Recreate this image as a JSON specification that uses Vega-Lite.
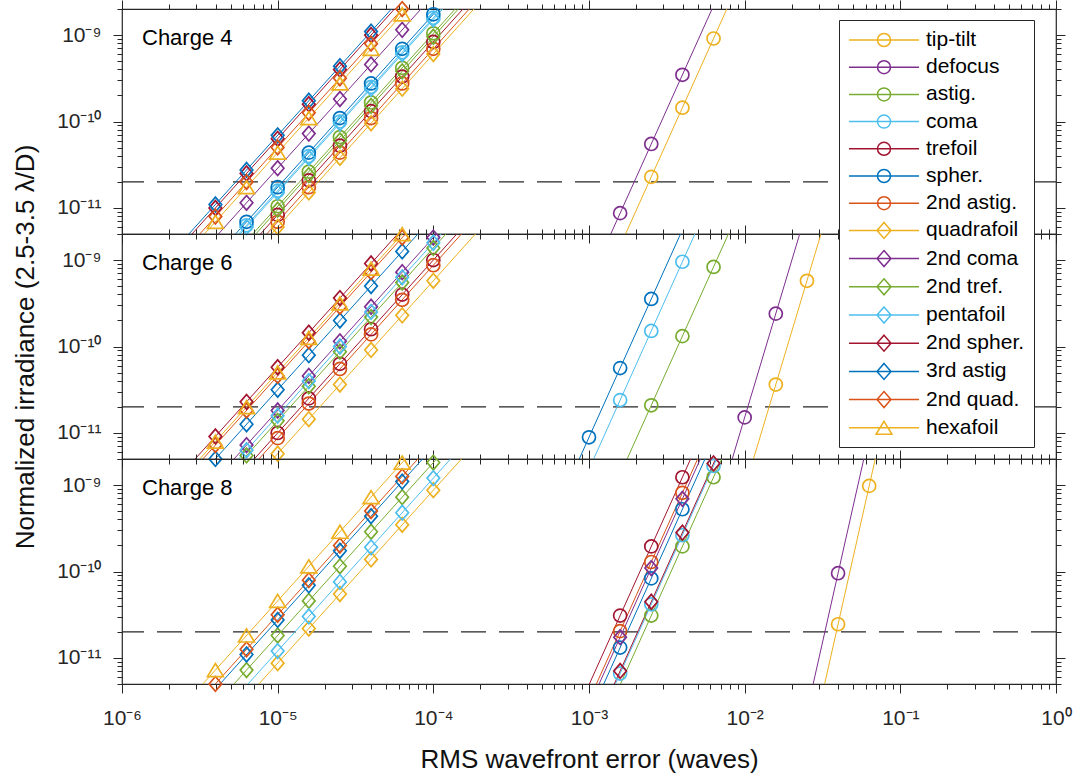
{
  "$schema": "https://vega.github.io/schema/vega-lite/v6.json",
  "background": "white",
  "padding": {"left": 11, "top": -3, "right": 5, "bottom": 5},
  "bounds": "flush",
  "spacing": 0,
  "config": {
    "font": "Liberation Sans",
    "view": {"stroke": "#262626", "strokeWidth": 1.2},
    "axis": {"grid": false, "domain": false, "tickColor": "#262626", "tickWidth": 1, "labelColor": "#262626", "labelFontSize": 21, "labelFont": "Liberation Sans", "titleFont": "Liberation Sans", "titleFontSize": 26, "titleFontWeight": "normal", "titleColor": "#111111", "labelOverlap": false, "labelFlush": false}
  },
  "datasets": {
    "pts": [
      {"c":4,"n":"tip-tilt","x":2.512e-3,"y":2.291e-11},{"c":4,"n":"tip-tilt","x":3.981e-3,"y":1.445e-10},{"c":4,"n":"tip-tilt","x":6.31e-3,"y":9.12e-10},
      {"c":4,"n":"defocus","x":1.585e-3,"y":8.71e-12},{"c":4,"n":"defocus","x":2.512e-3,"y":5.495e-11},{"c":4,"n":"defocus","x":3.981e-3,"y":3.467e-10},
      {"c":4,"n":"astig.","x":1e-5,"y":1.047e-11},{"c":4,"n":"astig.","x":1.585e-5,"y":2.63e-11},{"c":4,"n":"astig.","x":2.512e-5,"y":6.607e-11},{"c":4,"n":"astig.","x":3.981e-5,"y":1.66e-10},{"c":4,"n":"astig.","x":6.31e-5,"y":4.169e-10},{"c":4,"n":"astig.","x":1e-4,"y":1.047e-9},
      {"c":4,"n":"coma","x":6.31e-6,"y":6.31e-12},{"c":4,"n":"coma","x":1e-5,"y":1.585e-11},{"c":4,"n":"coma","x":1.585e-5,"y":3.981e-11},{"c":4,"n":"coma","x":2.512e-5,"y":1e-10},{"c":4,"n":"coma","x":3.981e-5,"y":2.512e-10},{"c":4,"n":"coma","x":6.31e-5,"y":6.31e-10},{"c":4,"n":"coma","x":1e-4,"y":1.585e-9},
      {"c":4,"n":"trefoil","x":1e-5,"y":8.318e-12},{"c":4,"n":"trefoil","x":1.585e-5,"y":2.089e-11},{"c":4,"n":"trefoil","x":2.512e-5,"y":5.248e-11},{"c":4,"n":"trefoil","x":3.981e-5,"y":1.318e-10},{"c":4,"n":"trefoil","x":6.31e-5,"y":3.311e-10},{"c":4,"n":"trefoil","x":1e-4,"y":8.318e-10},
      {"c":4,"n":"spher.","x":6.31e-6,"y":6.918e-12},{"c":4,"n":"spher.","x":1e-5,"y":1.738e-11},{"c":4,"n":"spher.","x":1.585e-5,"y":4.365e-11},{"c":4,"n":"spher.","x":2.512e-5,"y":1.096e-10},{"c":4,"n":"spher.","x":3.981e-5,"y":2.754e-10},{"c":4,"n":"spher.","x":6.31e-5,"y":6.918e-10},{"c":4,"n":"spher.","x":1e-4,"y":1.738e-9},
      {"c":4,"n":"2nd astig.","x":1e-5,"y":6.918e-12},{"c":4,"n":"2nd astig.","x":1.585e-5,"y":1.738e-11},{"c":4,"n":"2nd astig.","x":2.512e-5,"y":4.365e-11},{"c":4,"n":"2nd astig.","x":3.981e-5,"y":1.096e-10},{"c":4,"n":"2nd astig.","x":6.31e-5,"y":2.754e-10},{"c":4,"n":"2nd astig.","x":1e-4,"y":6.918e-10},
      {"c":4,"n":"quadrafoil","x":1e-5,"y":6.026e-12},{"c":4,"n":"quadrafoil","x":1.585e-5,"y":1.514e-11},{"c":4,"n":"quadrafoil","x":2.512e-5,"y":3.802e-11},{"c":4,"n":"quadrafoil","x":3.981e-5,"y":9.55e-11},{"c":4,"n":"quadrafoil","x":6.31e-5,"y":2.399e-10},{"c":4,"n":"quadrafoil","x":1e-4,"y":6.026e-10},
      {"c":4,"n":"2nd coma","x":6.31e-6,"y":1.148e-11},{"c":4,"n":"2nd coma","x":1e-5,"y":2.884e-11},{"c":4,"n":"2nd coma","x":1.585e-5,"y":7.244e-11},{"c":4,"n":"2nd coma","x":2.512e-5,"y":1.82e-10},{"c":4,"n":"2nd coma","x":3.981e-5,"y":4.571e-10},{"c":4,"n":"2nd coma","x":6.31e-5,"y":1.148e-9},
      {"c":4,"n":"2nd tref.","x":1e-5,"y":9.55e-12},{"c":4,"n":"2nd tref.","x":1.585e-5,"y":2.399e-11},{"c":4,"n":"2nd tref.","x":2.512e-5,"y":6.026e-11},{"c":4,"n":"2nd tref.","x":3.981e-5,"y":1.514e-10},{"c":4,"n":"2nd tref.","x":6.31e-5,"y":3.802e-10},{"c":4,"n":"2nd tref.","x":1e-4,"y":9.55e-10},
      {"c":4,"n":"pentafoil","x":6.31e-6,"y":6.026e-12},{"c":4,"n":"pentafoil","x":1e-5,"y":1.514e-11},{"c":4,"n":"pentafoil","x":1.585e-5,"y":3.802e-11},{"c":4,"n":"pentafoil","x":2.512e-5,"y":9.55e-11},{"c":4,"n":"pentafoil","x":3.981e-5,"y":2.399e-10},{"c":4,"n":"pentafoil","x":6.31e-5,"y":6.026e-10},{"c":4,"n":"pentafoil","x":1e-4,"y":1.514e-9},
      {"c":4,"n":"2nd spher.","x":3.981e-6,"y":1e-11},{"c":4,"n":"2nd spher.","x":6.31e-6,"y":2.512e-11},{"c":4,"n":"2nd spher.","x":1e-5,"y":6.31e-11},{"c":4,"n":"2nd spher.","x":1.585e-5,"y":1.585e-10},{"c":4,"n":"2nd spher.","x":2.512e-5,"y":3.981e-10},{"c":4,"n":"2nd spher.","x":3.981e-5,"y":1e-9},
      {"c":4,"n":"3rd astig","x":3.981e-6,"y":1.096e-11},{"c":4,"n":"3rd astig","x":6.31e-6,"y":2.754e-11},{"c":4,"n":"3rd astig","x":1e-5,"y":6.918e-11},{"c":4,"n":"3rd astig","x":1.585e-5,"y":1.738e-10},{"c":4,"n":"3rd astig","x":2.512e-5,"y":4.365e-10},{"c":4,"n":"3rd astig","x":3.981e-5,"y":1.096e-9},
      {"c":4,"n":"2nd quad.","x":3.981e-6,"y":7.943e-12},{"c":4,"n":"2nd quad.","x":6.31e-6,"y":1.995e-11},{"c":4,"n":"2nd quad.","x":1e-5,"y":5.012e-11},{"c":4,"n":"2nd quad.","x":1.585e-5,"y":1.259e-10},{"c":4,"n":"2nd quad.","x":2.512e-5,"y":3.162e-10},{"c":4,"n":"2nd quad.","x":3.981e-5,"y":7.943e-10},{"c":4,"n":"2nd quad.","x":6.31e-5,"y":1.995e-9},
      {"c":4,"n":"hexafoil","x":3.981e-6,"y":6.918e-12},{"c":4,"n":"hexafoil","x":6.31e-6,"y":1.738e-11},{"c":4,"n":"hexafoil","x":1e-5,"y":4.365e-11},{"c":4,"n":"hexafoil","x":1.585e-5,"y":1.096e-10},{"c":4,"n":"hexafoil","x":2.512e-5,"y":2.754e-10},{"c":4,"n":"hexafoil","x":3.981e-5,"y":6.918e-10},{"c":4,"n":"hexafoil","x":6.31e-5,"y":1.738e-9},

      {"c":6,"n":"tip-tilt","x":1.585e-2,"y":3.631e-11},{"c":6,"n":"tip-tilt","x":2.512e-2,"y":5.754e-10},
      {"c":6,"n":"defocus","x":1e-2,"y":1.514e-11},{"c":6,"n":"defocus","x":1.585e-2,"y":2.399e-10},
      {"c":6,"n":"astig.","x":2.512e-3,"y":2.089e-11},{"c":6,"n":"astig.","x":3.981e-3,"y":1.318e-10},{"c":6,"n":"astig.","x":6.31e-3,"y":8.318e-10},
      {"c":6,"n":"coma","x":1.585e-3,"y":2.399e-11},{"c":6,"n":"coma","x":2.512e-3,"y":1.514e-10},{"c":6,"n":"coma","x":3.981e-3,"y":9.55e-10},
      {"c":6,"n":"trefoil","x":1e-5,"y":1e-11},{"c":6,"n":"trefoil","x":1.585e-5,"y":2.512e-11},{"c":6,"n":"trefoil","x":2.512e-5,"y":6.31e-11},{"c":6,"n":"trefoil","x":3.981e-5,"y":1.585e-10},{"c":6,"n":"trefoil","x":6.31e-5,"y":3.981e-10},{"c":6,"n":"trefoil","x":1e-4,"y":1e-9},
      {"c":6,"n":"spher.","x":1e-3,"y":8.913e-12},{"c":6,"n":"spher.","x":1.585e-3,"y":5.623e-11},{"c":6,"n":"spher.","x":2.512e-3,"y":3.548e-10},
      {"c":6,"n":"2nd astig.","x":1e-5,"y":8.71e-12},{"c":6,"n":"2nd astig.","x":1.585e-5,"y":2.188e-11},{"c":6,"n":"2nd astig.","x":2.512e-5,"y":5.495e-11},{"c":6,"n":"2nd astig.","x":3.981e-5,"y":1.38e-10},{"c":6,"n":"2nd astig.","x":6.31e-5,"y":3.467e-10},{"c":6,"n":"2nd astig.","x":1e-4,"y":8.71e-10},
      {"c":6,"n":"quadrafoil","x":1e-5,"y":5.754e-12},{"c":6,"n":"quadrafoil","x":1.585e-5,"y":1.445e-11},{"c":6,"n":"quadrafoil","x":2.512e-5,"y":3.631e-11},{"c":6,"n":"quadrafoil","x":3.981e-5,"y":9.12e-11},{"c":6,"n":"quadrafoil","x":6.31e-5,"y":2.291e-10},{"c":6,"n":"quadrafoil","x":1e-4,"y":5.754e-10},
      {"c":6,"n":"2nd coma","x":6.31e-6,"y":7.244e-12},{"c":6,"n":"2nd coma","x":1e-5,"y":1.82e-11},{"c":6,"n":"2nd coma","x":1.585e-5,"y":4.571e-11},{"c":6,"n":"2nd coma","x":2.512e-5,"y":1.148e-10},{"c":6,"n":"2nd coma","x":3.981e-5,"y":2.884e-10},{"c":6,"n":"2nd coma","x":6.31e-5,"y":7.244e-10},{"c":6,"n":"2nd coma","x":1e-4,"y":1.82e-9},
      {"c":6,"n":"2nd tref.","x":6.31e-6,"y":5.495e-12},{"c":6,"n":"2nd tref.","x":1e-5,"y":1.38e-11},{"c":6,"n":"2nd tref.","x":1.585e-5,"y":3.467e-11},{"c":6,"n":"2nd tref.","x":2.512e-5,"y":8.71e-11},{"c":6,"n":"2nd tref.","x":3.981e-5,"y":2.188e-10},{"c":6,"n":"2nd tref.","x":6.31e-5,"y":5.495e-10},{"c":6,"n":"2nd tref.","x":1e-4,"y":1.38e-9},
      {"c":6,"n":"pentafoil","x":6.31e-6,"y":6.31e-12},{"c":6,"n":"pentafoil","x":1e-5,"y":1.585e-11},{"c":6,"n":"pentafoil","x":1.585e-5,"y":3.981e-11},{"c":6,"n":"pentafoil","x":2.512e-5,"y":1e-10},{"c":6,"n":"pentafoil","x":3.981e-5,"y":2.512e-10},{"c":6,"n":"pentafoil","x":6.31e-5,"y":6.31e-10},{"c":6,"n":"pentafoil","x":1e-4,"y":1.585e-9},
      {"c":6,"n":"2nd spher.","x":3.981e-6,"y":9.12e-12},{"c":6,"n":"2nd spher.","x":6.31e-6,"y":2.291e-11},{"c":6,"n":"2nd spher.","x":1e-5,"y":5.754e-11},{"c":6,"n":"2nd spher.","x":1.585e-5,"y":1.445e-10},{"c":6,"n":"2nd spher.","x":2.512e-5,"y":3.631e-10},{"c":6,"n":"2nd spher.","x":3.981e-5,"y":9.12e-10},
      {"c":6,"n":"3rd astig","x":3.981e-6,"y":5.012e-12},{"c":6,"n":"3rd astig","x":6.31e-6,"y":1.259e-11},{"c":6,"n":"3rd astig","x":1e-5,"y":3.162e-11},{"c":6,"n":"3rd astig","x":1.585e-5,"y":7.943e-11},{"c":6,"n":"3rd astig","x":2.512e-5,"y":1.995e-10},{"c":6,"n":"3rd astig","x":3.981e-5,"y":5.012e-10},{"c":6,"n":"3rd astig","x":6.31e-5,"y":1.259e-9},
      {"c":6,"n":"2nd quad.","x":3.981e-6,"y":7.244e-12},{"c":6,"n":"2nd quad.","x":6.31e-6,"y":1.82e-11},{"c":6,"n":"2nd quad.","x":1e-5,"y":4.571e-11},{"c":6,"n":"2nd quad.","x":1.585e-5,"y":1.148e-10},{"c":6,"n":"2nd quad.","x":2.512e-5,"y":2.884e-10},{"c":6,"n":"2nd quad.","x":3.981e-5,"y":7.244e-10},{"c":6,"n":"2nd quad.","x":6.31e-5,"y":1.82e-9},
      {"c":6,"n":"hexafoil","x":3.981e-6,"y":7.943e-12},{"c":6,"n":"hexafoil","x":6.31e-6,"y":1.995e-11},{"c":6,"n":"hexafoil","x":1e-5,"y":5.012e-11},{"c":6,"n":"hexafoil","x":1.585e-5,"y":1.259e-10},{"c":6,"n":"hexafoil","x":2.512e-5,"y":3.162e-10},{"c":6,"n":"hexafoil","x":3.981e-5,"y":7.943e-10},{"c":6,"n":"hexafoil","x":6.31e-5,"y":1.995e-9},

      {"c":8,"n":"tip-tilt","x":3.981e-2,"y":2.455e-11},{"c":8,"n":"tip-tilt","x":6.31e-2,"y":9.772e-10},
      {"c":8,"n":"defocus","x":3.981e-2,"y":9.55e-11},
      {"c":8,"n":"astig.","x":2.512e-3,"y":3.09e-11},{"c":8,"n":"astig.","x":3.981e-3,"y":1.95e-10},{"c":8,"n":"astig.","x":6.31e-3,"y":1.23e-9},
      {"c":8,"n":"coma","x":1.585e-3,"y":6.607e-12},{"c":8,"n":"coma","x":2.512e-3,"y":4.169e-11},{"c":8,"n":"coma","x":3.981e-3,"y":2.63e-10},{"c":8,"n":"coma","x":6.31e-3,"y":1.66e-9},
      {"c":8,"n":"trefoil","x":1.585e-3,"y":3.09e-11},{"c":8,"n":"trefoil","x":2.512e-3,"y":1.95e-10},{"c":8,"n":"trefoil","x":3.981e-3,"y":1.23e-9},
      {"c":8,"n":"spher.","x":1.585e-3,"y":1.318e-11},{"c":8,"n":"spher.","x":2.512e-3,"y":8.318e-11},{"c":8,"n":"spher.","x":3.981e-3,"y":5.248e-10},
      {"c":8,"n":"2nd astig.","x":1.585e-3,"y":2.042e-11},{"c":8,"n":"2nd astig.","x":2.512e-3,"y":1.288e-10},{"c":8,"n":"2nd astig.","x":3.981e-3,"y":8.128e-10},
      {"c":8,"n":"quadrafoil","x":1e-5,"y":8.71e-12},{"c":8,"n":"quadrafoil","x":1.585e-5,"y":2.188e-11},{"c":8,"n":"quadrafoil","x":2.512e-5,"y":5.495e-11},{"c":8,"n":"quadrafoil","x":3.981e-5,"y":1.38e-10},{"c":8,"n":"quadrafoil","x":6.31e-5,"y":3.467e-10},{"c":8,"n":"quadrafoil","x":1e-4,"y":8.71e-10},
      {"c":8,"n":"2nd coma","x":1.585e-3,"y":1.738e-11},{"c":8,"n":"2nd coma","x":2.512e-3,"y":1.096e-10},{"c":8,"n":"2nd coma","x":3.981e-3,"y":6.918e-10},
      {"c":8,"n":"2nd tref.","x":6.31e-6,"y":7.244e-12},{"c":8,"n":"2nd tref.","x":1e-5,"y":1.82e-11},{"c":8,"n":"2nd tref.","x":1.585e-5,"y":4.571e-11},{"c":8,"n":"2nd tref.","x":2.512e-5,"y":1.148e-10},{"c":8,"n":"2nd tref.","x":3.981e-5,"y":2.884e-10},{"c":8,"n":"2nd tref.","x":6.31e-5,"y":7.244e-10},{"c":8,"n":"2nd tref.","x":1e-4,"y":1.82e-9},
      {"c":8,"n":"pentafoil","x":1e-5,"y":1.202e-11},{"c":8,"n":"pentafoil","x":1.585e-5,"y":3.02e-11},{"c":8,"n":"pentafoil","x":2.512e-5,"y":7.586e-11},{"c":8,"n":"pentafoil","x":3.981e-5,"y":1.905e-10},{"c":8,"n":"pentafoil","x":6.31e-5,"y":4.786e-10},{"c":8,"n":"pentafoil","x":1e-4,"y":1.202e-9},
      {"c":8,"n":"2nd spher.","x":1.585e-3,"y":7.079e-12},{"c":8,"n":"2nd spher.","x":2.512e-3,"y":4.467e-11},{"c":8,"n":"2nd spher.","x":3.981e-3,"y":2.818e-10},{"c":8,"n":"2nd spher.","x":6.31e-3,"y":1.778e-9},
      {"c":8,"n":"3rd astig","x":6.31e-6,"y":1.096e-11},{"c":8,"n":"3rd astig","x":1e-5,"y":2.754e-11},{"c":8,"n":"3rd astig","x":1.585e-5,"y":6.918e-11},{"c":8,"n":"3rd astig","x":2.512e-5,"y":1.738e-10},{"c":8,"n":"3rd astig","x":3.981e-5,"y":4.365e-10},{"c":8,"n":"3rd astig","x":6.31e-5,"y":1.096e-9},
      {"c":8,"n":"2nd quad.","x":3.981e-6,"y":5.012e-12},{"c":8,"n":"2nd quad.","x":6.31e-6,"y":1.259e-11},{"c":8,"n":"2nd quad.","x":1e-5,"y":3.162e-11},{"c":8,"n":"2nd quad.","x":1.585e-5,"y":7.943e-11},{"c":8,"n":"2nd quad.","x":2.512e-5,"y":1.995e-10},{"c":8,"n":"2nd quad.","x":3.981e-5,"y":5.012e-10},{"c":8,"n":"2nd quad.","x":6.31e-5,"y":1.259e-9},
      {"c":8,"n":"hexafoil","x":3.981e-6,"y":7.244e-12},{"c":8,"n":"hexafoil","x":6.31e-6,"y":1.82e-11},{"c":8,"n":"hexafoil","x":1e-5,"y":4.571e-11},{"c":8,"n":"hexafoil","x":1.585e-5,"y":1.148e-10},{"c":8,"n":"hexafoil","x":2.512e-5,"y":2.884e-10},{"c":8,"n":"hexafoil","x":3.981e-5,"y":7.244e-10},{"c":8,"n":"hexafoil","x":6.31e-5,"y":1.82e-9}
    ],
    "fits": [
      {"c":4,"n":"tip-tilt","x":3.981e-4,"y":1.445e-14},{"c":4,"n":"tip-tilt","x":3.981e-2,"y":1.445e-6},
      {"c":4,"n":"defocus","x":2.512e-4,"y":5.495e-15},{"c":4,"n":"defocus","x":2.512e-2,"y":5.495e-7},
      {"c":4,"n":"astig.","x":1e-6,"y":1.047e-13},{"c":4,"n":"astig.","x":1e-3,"y":1.047e-7},
      {"c":4,"n":"coma","x":1e-6,"y":1.585e-13},{"c":4,"n":"coma","x":1e-3,"y":1.585e-7},
      {"c":4,"n":"trefoil","x":1e-6,"y":8.318e-14},{"c":4,"n":"trefoil","x":1e-3,"y":8.318e-8},
      {"c":4,"n":"spher.","x":1e-6,"y":1.738e-13},{"c":4,"n":"spher.","x":1e-3,"y":1.738e-7},
      {"c":4,"n":"2nd astig.","x":1e-6,"y":6.918e-14},{"c":4,"n":"2nd astig.","x":1e-3,"y":6.918e-8},
      {"c":4,"n":"quadrafoil","x":1e-6,"y":6.026e-14},{"c":4,"n":"quadrafoil","x":1e-3,"y":6.026e-8},
      {"c":4,"n":"2nd coma","x":1e-6,"y":2.884e-13},{"c":4,"n":"2nd coma","x":1e-3,"y":2.884e-7},
      {"c":4,"n":"2nd tref.","x":1e-6,"y":9.55e-14},{"c":4,"n":"2nd tref.","x":1e-3,"y":9.55e-8},
      {"c":4,"n":"pentafoil","x":1e-6,"y":1.514e-13},{"c":4,"n":"pentafoil","x":1e-3,"y":1.514e-7},
      {"c":4,"n":"2nd spher.","x":1e-6,"y":6.31e-13},{"c":4,"n":"2nd spher.","x":1e-3,"y":6.31e-7},
      {"c":4,"n":"3rd astig","x":1e-6,"y":6.918e-13},{"c":4,"n":"3rd astig","x":1e-3,"y":6.918e-7},
      {"c":4,"n":"2nd quad.","x":1e-6,"y":5.012e-13},{"c":4,"n":"2nd quad.","x":1e-3,"y":5.012e-7},
      {"c":4,"n":"hexafoil","x":1e-6,"y":4.365e-13},{"c":4,"n":"hexafoil","x":1e-3,"y":4.365e-7},

      {"c":6,"n":"tip-tilt","x":6.31e-3,"y":1.445e-13},{"c":6,"n":"tip-tilt","x":6.31e-2,"y":1.445e-7},
      {"c":6,"n":"defocus","x":3.981e-3,"y":6.026e-14},{"c":6,"n":"defocus","x":3.981e-2,"y":6.026e-8},
      {"c":6,"n":"astig.","x":3.981e-4,"y":1.318e-14},{"c":6,"n":"astig.","x":3.981e-2,"y":1.318e-6},
      {"c":6,"n":"coma","x":2.512e-4,"y":1.514e-14},{"c":6,"n":"coma","x":2.512e-2,"y":1.514e-6},
      {"c":6,"n":"trefoil","x":1e-6,"y":1e-13},{"c":6,"n":"trefoil","x":1e-3,"y":1e-7},
      {"c":6,"n":"spher.","x":1.585e-4,"y":5.623e-15},{"c":6,"n":"spher.","x":1.585e-2,"y":5.623e-7},
      {"c":6,"n":"2nd astig.","x":1e-6,"y":8.71e-14},{"c":6,"n":"2nd astig.","x":1e-3,"y":8.71e-8},
      {"c":6,"n":"quadrafoil","x":1e-6,"y":5.754e-14},{"c":6,"n":"quadrafoil","x":1e-3,"y":5.754e-8},
      {"c":6,"n":"2nd coma","x":1e-6,"y":1.82e-13},{"c":6,"n":"2nd coma","x":1e-3,"y":1.82e-7},
      {"c":6,"n":"2nd tref.","x":1e-6,"y":1.38e-13},{"c":6,"n":"2nd tref.","x":1e-3,"y":1.38e-7},
      {"c":6,"n":"pentafoil","x":1e-6,"y":1.585e-13},{"c":6,"n":"pentafoil","x":1e-3,"y":1.585e-7},
      {"c":6,"n":"2nd spher.","x":1e-6,"y":5.754e-13},{"c":6,"n":"2nd spher.","x":1e-3,"y":5.754e-7},
      {"c":6,"n":"3rd astig","x":1e-6,"y":3.162e-13},{"c":6,"n":"3rd astig","x":1e-3,"y":3.162e-7},
      {"c":6,"n":"2nd quad.","x":1e-6,"y":4.571e-13},{"c":6,"n":"2nd quad.","x":1e-3,"y":4.571e-7},
      {"c":6,"n":"hexafoil","x":1e-6,"y":5.012e-13},{"c":6,"n":"hexafoil","x":1e-3,"y":5.012e-7},

      {"c":8,"n":"tip-tilt","x":1.585e-2,"y":1.549e-14},{"c":8,"n":"tip-tilt","x":1.585e-1,"y":1.549e-6},
      {"c":8,"n":"defocus","x":1.259e-2,"y":9.55e-15},{"c":8,"n":"defocus","x":1.259e-1,"y":9.55e-7},
      {"c":8,"n":"astig.","x":3.981e-4,"y":1.95e-14},{"c":8,"n":"astig.","x":3.981e-2,"y":1.95e-6},
      {"c":8,"n":"coma","x":3.981e-4,"y":2.63e-14},{"c":8,"n":"coma","x":3.981e-2,"y":2.63e-6},
      {"c":8,"n":"trefoil","x":2.512e-4,"y":1.95e-14},{"c":8,"n":"trefoil","x":2.512e-2,"y":1.95e-6},
      {"c":8,"n":"spher.","x":2.512e-4,"y":8.318e-15},{"c":8,"n":"spher.","x":2.512e-2,"y":8.318e-7},
      {"c":8,"n":"2nd astig.","x":2.512e-4,"y":1.288e-14},{"c":8,"n":"2nd astig.","x":2.512e-2,"y":1.288e-6},
      {"c":8,"n":"quadrafoil","x":1e-6,"y":8.71e-14},{"c":8,"n":"quadrafoil","x":1e-3,"y":8.71e-8},
      {"c":8,"n":"2nd coma","x":2.512e-4,"y":1.096e-14},{"c":8,"n":"2nd coma","x":2.512e-2,"y":1.096e-6},
      {"c":8,"n":"2nd tref.","x":1e-6,"y":1.82e-13},{"c":8,"n":"2nd tref.","x":1e-3,"y":1.82e-7},
      {"c":8,"n":"pentafoil","x":1e-6,"y":1.202e-13},{"c":8,"n":"pentafoil","x":1e-3,"y":1.202e-7},
      {"c":8,"n":"2nd spher.","x":3.981e-4,"y":2.818e-14},{"c":8,"n":"2nd spher.","x":3.981e-2,"y":2.818e-6},
      {"c":8,"n":"3rd astig","x":1e-6,"y":2.754e-13},{"c":8,"n":"3rd astig","x":1e-3,"y":2.754e-7},
      {"c":8,"n":"2nd quad.","x":1e-6,"y":3.162e-13},{"c":8,"n":"2nd quad.","x":1e-3,"y":3.162e-7},
      {"c":8,"n":"hexafoil","x":1e-6,"y":4.571e-13},{"c":8,"n":"hexafoil","x":1e-3,"y":4.571e-7}
    ]
  },
  "vconcat": [
    {
      "width": 934, "height": 225,
      "resolve": {"axis": {"x": "independent", "y": "independent"}},
      "layer": [
        {"data": {"values": [{}]}, "mark": {"type": "rule", "strokeDash": [25, 13], "color": "#262626", "strokeWidth": 1.3},
         "encoding": {"y": {"datum": 2e-11, "type": "quantitative", "axis": null}}},
        {"data": {"name": "fits"}, "transform": [{"filter": "datum.c == 4"}],
         "mark": {"type": "line", "clip": true, "strokeWidth": 1},
         "encoding": {
           "x": {"field": "x", "type": "quantitative", "scale": {"type": "log", "domain": [1e-6, 1], "nice": false},
                 "axis": {"orient": "bottom", "labels": false, "title": null, "values": [1e-6,2e-6,3e-6,4e-6,5e-6,6e-6,7e-6,8e-6,9e-6,1e-5,2e-5,3e-5,4e-5,5e-5,6e-5,7e-5,8e-5,9e-5,1e-4,2e-4,3e-4,4e-4,5e-4,6e-4,7e-4,8e-4,9e-4,1e-3,2e-3,3e-3,4e-3,5e-3,6e-3,7e-3,8e-3,9e-3,0.01,0.02,0.03,0.04,0.05,0.06,0.07,0.08,0.09,0.1,0.2,0.3,0.4,0.5,0.6,0.7,0.8,0.9,1],
                          "tickSize": {"condition": {"test": "abs(log(datum.value)/LN10 - round(log(datum.value)/LN10)) < 0.001", "value": 9}, "value": 5}}},
           "y": {"field": "y", "type": "quantitative", "scale": {"type": "log", "domain": [5e-12, 2e-9], "nice": false},
                 "axis": {"orient": "left", "title": null, "labelPadding": 12, "values": [5e-12,6e-12,7e-12,8e-12,9e-12,1e-11,2e-11,3e-11,4e-11,5e-11,6e-11,7e-11,8e-11,9e-11,1e-10,2e-10,3e-10,4e-10,5e-10,6e-10,7e-10,8e-10,9e-10,1e-9,2e-9],
                          "labelExpr": "abs(log(datum.value)/LN10 - round(log(datum.value)/LN10)) < 0.001 ? ['10⁻¹¹','10⁻¹⁰','10⁻⁹'][round(log(datum.value)/LN10) + 11] : ''",
                          "tickSize": {"condition": {"test": "abs(log(datum.value)/LN10 - round(log(datum.value)/LN10)) < 0.001", "value": 9}, "value": 5}}},
           "color": {"field": "n", "type": "nominal", "scale": {"domain": ["tip-tilt","defocus","astig.","coma","trefoil","spher.","2nd astig.","quadrafoil","2nd coma","2nd tref.","pentafoil","2nd spher.","3rd astig","2nd quad.","hexafoil"], "range": ["#EDB120","#7E2F8E","#77AC30","#4DBEEE","#A2142F","#0072BD","#D95319","#EDB120","#7E2F8E","#77AC30","#4DBEEE","#A2142F","#0072BD","#D95319","#EDB120"]}}
         }},
        {"data": {"name": "pts"}, "transform": [{"filter": "datum.c == 4"}],
         "mark": {"type": "point", "filled": false, "strokeWidth": 1.7, "size": 196, "opacity": 1},
         "encoding": {
           "x": {"field": "x", "type": "quantitative",
                 "axis": {"orient": "top", "labels": false, "title": null, "values": [1e-6,2e-6,3e-6,4e-6,5e-6,6e-6,7e-6,8e-6,9e-6,1e-5,2e-5,3e-5,4e-5,5e-5,6e-5,7e-5,8e-5,9e-5,1e-4,2e-4,3e-4,4e-4,5e-4,6e-4,7e-4,8e-4,9e-4,1e-3,2e-3,3e-3,4e-3,5e-3,6e-3,7e-3,8e-3,9e-3,0.01,0.02,0.03,0.04,0.05,0.06,0.07,0.08,0.09,0.1,0.2,0.3,0.4,0.5,0.6,0.7,0.8,0.9,1],
                          "tickSize": {"condition": {"test": "abs(log(datum.value)/LN10 - round(log(datum.value)/LN10)) < 0.001", "value": 9}, "value": 5}}},
           "y": {"field": "y", "type": "quantitative",
                 "axis": {"orient": "right", "labels": false, "title": null, "values": [5e-12,6e-12,7e-12,8e-12,9e-12,1e-11,2e-11,3e-11,4e-11,5e-11,6e-11,7e-11,8e-11,9e-11,1e-10,2e-10,3e-10,4e-10,5e-10,6e-10,7e-10,8e-10,9e-10,1e-9,2e-9],
                          "tickSize": {"condition": {"test": "abs(log(datum.value)/LN10 - round(log(datum.value)/LN10)) < 0.001", "value": 9}, "value": 5}}},
           "color": {"field": "n", "type": "nominal", "scale": {"domain": ["tip-tilt","defocus","astig.","coma","trefoil","spher.","2nd astig.","quadrafoil","2nd coma","2nd tref.","pentafoil","2nd spher.","3rd astig","2nd quad.","hexafoil"], "range": ["#EDB120","#7E2F8E","#77AC30","#4DBEEE","#A2142F","#0072BD","#D95319","#EDB120","#7E2F8E","#77AC30","#4DBEEE","#A2142F","#0072BD","#D95319","#EDB120"]},
                     "legend": {"orient": "none", "legendX": 717, "legendY": 11, "title": null, "labelFontSize": 21, "labelColor": "#000000", "labelFont": "Liberation Sans", "symbolSize": 400, "symbolStrokeWidth": 1.5, "symbolFillColor": "transparent", "symbolOffset": 25, "labelOffset": 31, "strokeColor": "#262626", "fillColor": "#ffffff", "padding": 9, "rowPadding": 6.2, "cornerRadius": 0,
                                "symbolType": {"expr": "datum.value == 'hexafoil' ? 'M-3.5,0H3.5M0,-0.65L0.8,0.65L-0.8,0.65Z' : indexof(['quadrafoil','2nd coma','2nd tref.','pentafoil','2nd spher.','3rd astig','2nd quad.'], datum.value) >= 0 ? 'M-3.5,0H3.5M0,-0.8L0.7,0L0,0.8L-0.7,0Z' : 'M-3.5,0H3.5M0.65,0A0.65,0.65,0,1,1,-0.65,0A0.65,0.65,0,1,1,0.65,0Z'"}}},
           "shape": {"condition": [{"test": "datum.n == 'hexafoil'", "value": "M0,-0.93L1.14,0.93L-1.14,0.93Z"}, {"test": "indexof(['quadrafoil','2nd coma','2nd tref.','pentafoil','2nd spher.','3rd astig','2nd quad.'], datum.n) >= 0", "value": "M0,-1.05L0.9,0L0,1.05L-0.9,0Z"}], "value": "M0.93,0A0.93,0.93,0,1,1,-0.93,0A0.93,0.93,0,1,1,0.93,0Z"}
         }},
        {"data": {"values": [{}]}, "mark": {"type": "text", "align": "left", "baseline": "alphabetic", "fontSize": 22, "color": "#000000", "font": "Liberation Sans"},
         "encoding": {"x": {"datum": 1.344e-6, "type": "quantitative", "axis": null}, "y": {"datum": 7.6e-10, "type": "quantitative", "axis": null}, "text": {"value": "Charge 4"}}}
      ]
    },
    {
      "width": 934, "height": 225,
      "resolve": {"axis": {"x": "independent", "y": "independent"}},
      "layer": [
        {"data": {"values": [{}]}, "mark": {"type": "rule", "strokeDash": [25, 13], "color": "#262626", "strokeWidth": 1.3},
         "encoding": {"y": {"datum": 2e-11, "type": "quantitative", "axis": null}}},
        {"data": {"name": "fits"}, "transform": [{"filter": "datum.c == 6"}],
         "mark": {"type": "line", "clip": true, "strokeWidth": 1},
         "encoding": {
           "x": {"field": "x", "type": "quantitative", "scale": {"type": "log", "domain": [1e-6, 1], "nice": false},
                 "axis": {"orient": "bottom", "labels": false, "title": null, "values": [1e-6,2e-6,3e-6,4e-6,5e-6,6e-6,7e-6,8e-6,9e-6,1e-5,2e-5,3e-5,4e-5,5e-5,6e-5,7e-5,8e-5,9e-5,1e-4,2e-4,3e-4,4e-4,5e-4,6e-4,7e-4,8e-4,9e-4,1e-3,2e-3,3e-3,4e-3,5e-3,6e-3,7e-3,8e-3,9e-3,0.01,0.02,0.03,0.04,0.05,0.06,0.07,0.08,0.09,0.1,0.2,0.3,0.4,0.5,0.6,0.7,0.8,0.9,1],
                          "tickSize": {"condition": {"test": "abs(log(datum.value)/LN10 - round(log(datum.value)/LN10)) < 0.001", "value": 9}, "value": 5}}},
           "y": {"field": "y", "type": "quantitative", "scale": {"type": "log", "domain": [5e-12, 2e-9], "nice": false},
                 "axis": {"orient": "left", "title": "Normalized irradiance (2.5-3.5 λ/D)", "titleX": -84, "titleAngle": 270, "titleBaseline": "bottom", "titleAlign": "center", "labelPadding": 12, "values": [5e-12,6e-12,7e-12,8e-12,9e-12,1e-11,2e-11,3e-11,4e-11,5e-11,6e-11,7e-11,8e-11,9e-11,1e-10,2e-10,3e-10,4e-10,5e-10,6e-10,7e-10,8e-10,9e-10,1e-9,2e-9],
                          "labelExpr": "abs(log(datum.value)/LN10 - round(log(datum.value)/LN10)) < 0.001 ? ['10⁻¹¹','10⁻¹⁰','10⁻⁹'][round(log(datum.value)/LN10) + 11] : ''",
                          "tickSize": {"condition": {"test": "abs(log(datum.value)/LN10 - round(log(datum.value)/LN10)) < 0.001", "value": 9}, "value": 5}}},
           "color": {"field": "n", "type": "nominal", "scale": {"domain": ["tip-tilt","defocus","astig.","coma","trefoil","spher.","2nd astig.","quadrafoil","2nd coma","2nd tref.","pentafoil","2nd spher.","3rd astig","2nd quad.","hexafoil"], "range": ["#EDB120","#7E2F8E","#77AC30","#4DBEEE","#A2142F","#0072BD","#D95319","#EDB120","#7E2F8E","#77AC30","#4DBEEE","#A2142F","#0072BD","#D95319","#EDB120"]}}
         }},
        {"data": {"name": "pts"}, "transform": [{"filter": "datum.c == 6"}],
         "mark": {"type": "point", "filled": false, "strokeWidth": 1.7, "size": 196, "opacity": 1},
         "encoding": {
           "x": {"field": "x", "type": "quantitative",
                 "axis": {"orient": "top", "labels": false, "title": null, "values": [1e-6,2e-6,3e-6,4e-6,5e-6,6e-6,7e-6,8e-6,9e-6,1e-5,2e-5,3e-5,4e-5,5e-5,6e-5,7e-5,8e-5,9e-5,1e-4,2e-4,3e-4,4e-4,5e-4,6e-4,7e-4,8e-4,9e-4,1e-3,2e-3,3e-3,4e-3,5e-3,6e-3,7e-3,8e-3,9e-3,0.01,0.02,0.03,0.04,0.05,0.06,0.07,0.08,0.09,0.1,0.2,0.3,0.4,0.5,0.6,0.7,0.8,0.9,1],
                          "tickSize": {"condition": {"test": "abs(log(datum.value)/LN10 - round(log(datum.value)/LN10)) < 0.001", "value": 9}, "value": 5}}},
           "y": {"field": "y", "type": "quantitative",
                 "axis": {"orient": "right", "labels": false, "title": null, "values": [5e-12,6e-12,7e-12,8e-12,9e-12,1e-11,2e-11,3e-11,4e-11,5e-11,6e-11,7e-11,8e-11,9e-11,1e-10,2e-10,3e-10,4e-10,5e-10,6e-10,7e-10,8e-10,9e-10,1e-9,2e-9],
                          "tickSize": {"condition": {"test": "abs(log(datum.value)/LN10 - round(log(datum.value)/LN10)) < 0.001", "value": 9}, "value": 5}}},
           "color": {"field": "n", "type": "nominal", "scale": {"domain": ["tip-tilt","defocus","astig.","coma","trefoil","spher.","2nd astig.","quadrafoil","2nd coma","2nd tref.","pentafoil","2nd spher.","3rd astig","2nd quad.","hexafoil"], "range": ["#EDB120","#7E2F8E","#77AC30","#4DBEEE","#A2142F","#0072BD","#D95319","#EDB120","#7E2F8E","#77AC30","#4DBEEE","#A2142F","#0072BD","#D95319","#EDB120"]}},
           "shape": {"condition": [{"test": "datum.n == 'hexafoil'", "value": "M0,-0.93L1.14,0.93L-1.14,0.93Z"}, {"test": "indexof(['quadrafoil','2nd coma','2nd tref.','pentafoil','2nd spher.','3rd astig','2nd quad.'], datum.n) >= 0", "value": "M0,-1.05L0.9,0L0,1.05L-0.9,0Z"}], "value": "M0.93,0A0.93,0.93,0,1,1,-0.93,0A0.93,0.93,0,1,1,0.93,0Z"}
         }},
        {"data": {"values": [{}]}, "mark": {"type": "text", "align": "left", "baseline": "alphabetic", "fontSize": 22, "color": "#000000", "font": "Liberation Sans"},
         "encoding": {"x": {"datum": 1.344e-6, "type": "quantitative", "axis": null}, "y": {"datum": 7.6e-10, "type": "quantitative", "axis": null}, "text": {"value": "Charge 6"}}}
      ]
    },
    {
      "width": 934, "height": 225,
      "resolve": {"axis": {"x": "independent", "y": "independent"}},
      "layer": [
        {"data": {"values": [{}]}, "mark": {"type": "rule", "strokeDash": [25, 13], "color": "#262626", "strokeWidth": 1.3},
         "encoding": {"y": {"datum": 2e-11, "type": "quantitative", "axis": null}}},
        {"data": {"name": "fits"}, "transform": [{"filter": "datum.c == 8"}],
         "mark": {"type": "line", "clip": true, "strokeWidth": 1},
         "encoding": {
           "x": {"field": "x", "type": "quantitative", "scale": {"type": "log", "domain": [1e-6, 1], "nice": false},
                 "axis": {"orient": "bottom", "title": "RMS wavefront error (waves)", "labelPadding": 14, "titlePadding": 18, "values": [1e-6,2e-6,3e-6,4e-6,5e-6,6e-6,7e-6,8e-6,9e-6,1e-5,2e-5,3e-5,4e-5,5e-5,6e-5,7e-5,8e-5,9e-5,1e-4,2e-4,3e-4,4e-4,5e-4,6e-4,7e-4,8e-4,9e-4,1e-3,2e-3,3e-3,4e-3,5e-3,6e-3,7e-3,8e-3,9e-3,0.01,0.02,0.03,0.04,0.05,0.06,0.07,0.08,0.09,0.1,0.2,0.3,0.4,0.5,0.6,0.7,0.8,0.9,1],
                          "labelExpr": "abs(log(datum.value)/LN10 - round(log(datum.value)/LN10)) < 0.001 ? ['10⁻⁶','10⁻⁵','10⁻⁴','10⁻³','10⁻²','10⁻¹','10⁰'][round(log(datum.value)/LN10) + 6] : ''",
                          "tickSize": {"condition": {"test": "abs(log(datum.value)/LN10 - round(log(datum.value)/LN10)) < 0.001", "value": 9}, "value": 5}}},
           "y": {"field": "y", "type": "quantitative", "scale": {"type": "log", "domain": [5e-12, 2e-9], "nice": false},
                 "axis": {"orient": "left", "title": null, "labelPadding": 12, "values": [5e-12,6e-12,7e-12,8e-12,9e-12,1e-11,2e-11,3e-11,4e-11,5e-11,6e-11,7e-11,8e-11,9e-11,1e-10,2e-10,3e-10,4e-10,5e-10,6e-10,7e-10,8e-10,9e-10,1e-9,2e-9],
                          "labelExpr": "abs(log(datum.value)/LN10 - round(log(datum.value)/LN10)) < 0.001 ? ['10⁻¹¹','10⁻¹⁰','10⁻⁹'][round(log(datum.value)/LN10) + 11] : ''",
                          "tickSize": {"condition": {"test": "abs(log(datum.value)/LN10 - round(log(datum.value)/LN10)) < 0.001", "value": 9}, "value": 5}}},
           "color": {"field": "n", "type": "nominal", "scale": {"domain": ["tip-tilt","defocus","astig.","coma","trefoil","spher.","2nd astig.","quadrafoil","2nd coma","2nd tref.","pentafoil","2nd spher.","3rd astig","2nd quad.","hexafoil"], "range": ["#EDB120","#7E2F8E","#77AC30","#4DBEEE","#A2142F","#0072BD","#D95319","#EDB120","#7E2F8E","#77AC30","#4DBEEE","#A2142F","#0072BD","#D95319","#EDB120"]}}
         }},
        {"data": {"name": "pts"}, "transform": [{"filter": "datum.c == 8"}],
         "mark": {"type": "point", "filled": false, "strokeWidth": 1.7, "size": 196, "opacity": 1},
         "encoding": {
           "x": {"field": "x", "type": "quantitative",
                 "axis": {"orient": "top", "labels": false, "title": null, "values": [1e-6,2e-6,3e-6,4e-6,5e-6,6e-6,7e-6,8e-6,9e-6,1e-5,2e-5,3e-5,4e-5,5e-5,6e-5,7e-5,8e-5,9e-5,1e-4,2e-4,3e-4,4e-4,5e-4,6e-4,7e-4,8e-4,9e-4,1e-3,2e-3,3e-3,4e-3,5e-3,6e-3,7e-3,8e-3,9e-3,0.01,0.02,0.03,0.04,0.05,0.06,0.07,0.08,0.09,0.1,0.2,0.3,0.4,0.5,0.6,0.7,0.8,0.9,1],
                          "tickSize": {"condition": {"test": "abs(log(datum.value)/LN10 - round(log(datum.value)/LN10)) < 0.001", "value": 9}, "value": 5}}},
           "y": {"field": "y", "type": "quantitative",
                 "axis": {"orient": "right", "labels": false, "title": null, "values": [5e-12,6e-12,7e-12,8e-12,9e-12,1e-11,2e-11,3e-11,4e-11,5e-11,6e-11,7e-11,8e-11,9e-11,1e-10,2e-10,3e-10,4e-10,5e-10,6e-10,7e-10,8e-10,9e-10,1e-9,2e-9],
                          "tickSize": {"condition": {"test": "abs(log(datum.value)/LN10 - round(log(datum.value)/LN10)) < 0.001", "value": 9}, "value": 5}}},
           "color": {"field": "n", "type": "nominal", "scale": {"domain": ["tip-tilt","defocus","astig.","coma","trefoil","spher.","2nd astig.","quadrafoil","2nd coma","2nd tref.","pentafoil","2nd spher.","3rd astig","2nd quad.","hexafoil"], "range": ["#EDB120","#7E2F8E","#77AC30","#4DBEEE","#A2142F","#0072BD","#D95319","#EDB120","#7E2F8E","#77AC30","#4DBEEE","#A2142F","#0072BD","#D95319","#EDB120"]}},
           "shape": {"condition": [{"test": "datum.n == 'hexafoil'", "value": "M0,-0.93L1.14,0.93L-1.14,0.93Z"}, {"test": "indexof(['quadrafoil','2nd coma','2nd tref.','pentafoil','2nd spher.','3rd astig','2nd quad.'], datum.n) >= 0", "value": "M0,-1.05L0.9,0L0,1.05L-0.9,0Z"}], "value": "M0.93,0A0.93,0.93,0,1,1,-0.93,0A0.93,0.93,0,1,1,0.93,0Z"}
         }},
        {"data": {"values": [{}]}, "mark": {"type": "text", "align": "left", "baseline": "alphabetic", "fontSize": 22, "color": "#000000", "font": "Liberation Sans"},
         "encoding": {"x": {"datum": 1.344e-6, "type": "quantitative", "axis": null}, "y": {"datum": 7.6e-10, "type": "quantitative", "axis": null}, "text": {"value": "Charge 8"}}}
      ]
    }
  ]
}
